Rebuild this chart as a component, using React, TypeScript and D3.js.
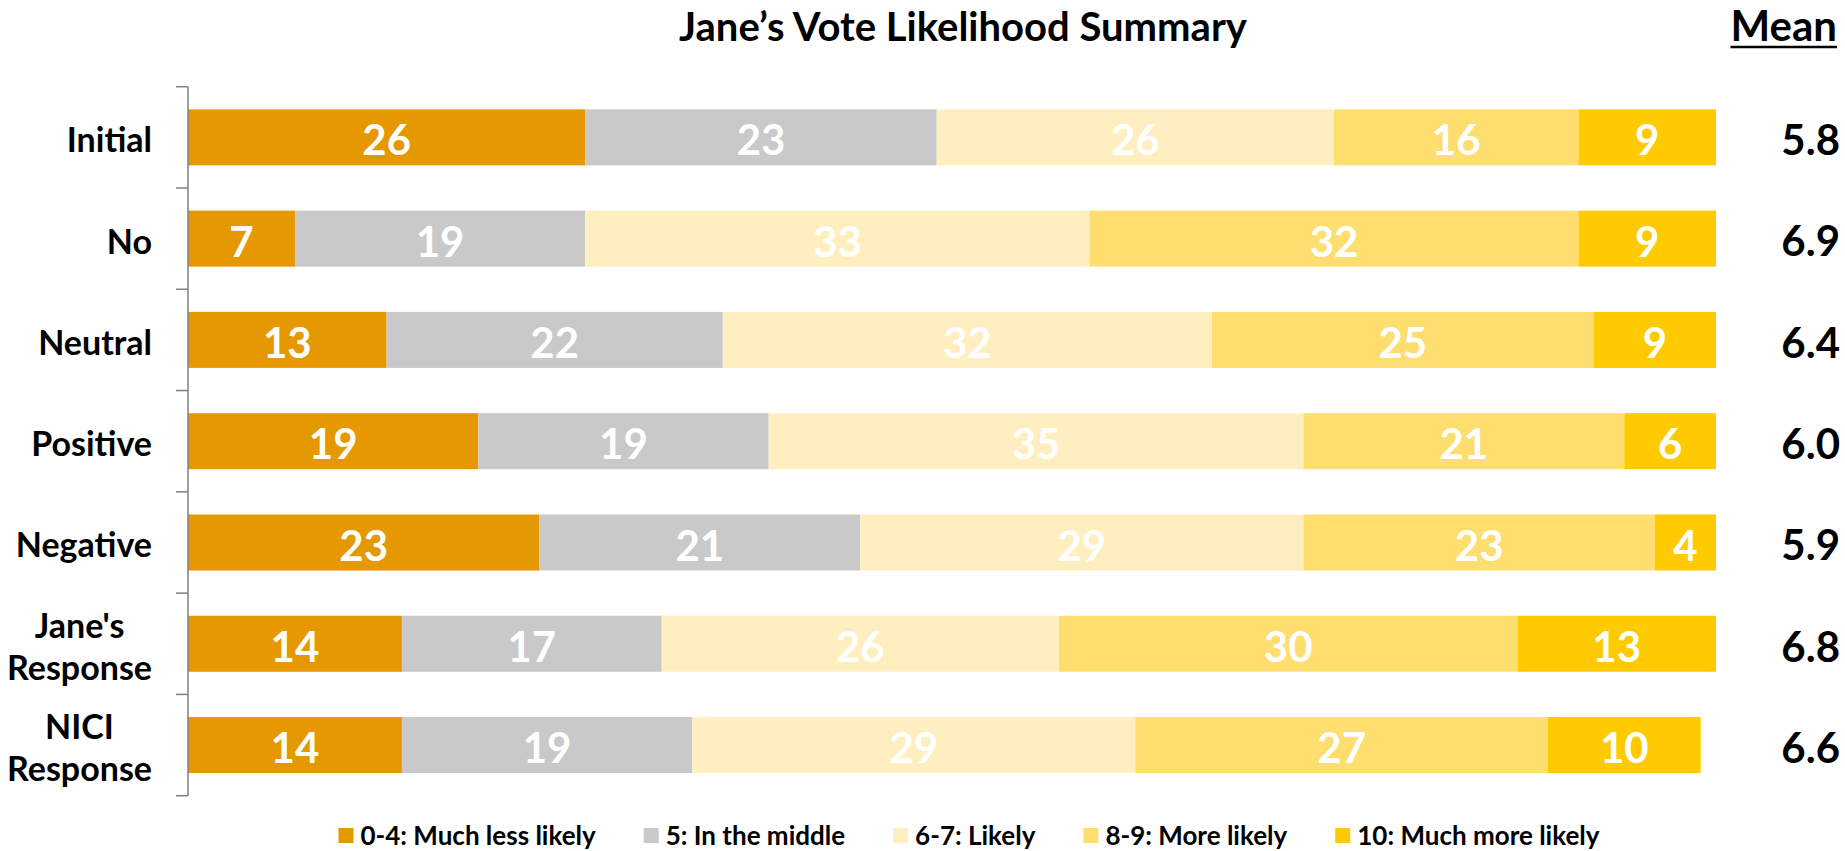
import React, { useEffect, useRef } from "react";
import * as d3 from "d3";

const categories = ["Initial", "No", "Neutral", "Positive", "Negative", "Jane's\nResponse", "NICI\nResponse"];
const seriesNames = ["0-4: Much less likely", "5: In the middle", "6-7: Likely", "8-9: More likely", "10: Much more likely"];
const seriesColors = ["#E69800", "#C9C9C9", "#FFEFC0", "#FDDE6E", "#FFCA00"];
const muchLessLikely = [26, 7, 13, 19, 23, 14, 14];
const inTheMiddle = [23, 19, 22, 19, 21, 17, 19];
const likely = [26, 33, 32, 35, 29, 26, 29];
const moreLikely = [16, 32, 25, 21, 23, 30, 27];
const muchMoreLikely = [9, 9, 8, 6, 4, 13, 10];
const muchMoreLikelyLabels = [9, 9, 9, 6, 4, 13, 10];
const means = ["5.8", "6.9", "6.4", "6.0", "5.9", "6.8", "6.6"];
const title = "Jane\u2019s Vote Likelihood Summary";
const meanHeader = "Mean";

const FONT = "Lato, 'Open Sans', sans-serif";

export default function App() {
  const ref = useRef<SVGSVGElement | null>(null);

  useEffect(() => {
    const svg = d3.select(ref.current);
    svg.selectAll("*").remove();

    const seriesValues = [muchLessLikely, inTheMiddle, likely, moreLikely, muchMoreLikely];
    const labelValues = [muchLessLikely, inTheMiddle, likely, moreLikely, muchMoreLikelyLabels];
    const rows = categories.map((c, i) => {
      const o: any = { cat: c, idx: i };
      seriesNames.forEach((s, k) => (o[s] = seriesValues[k][i]));
      return o;
    });
    const stacked = d3.stack<any>().keys(seriesNames)(rows);

    const x = d3.scaleLinear().domain([0, 100]).range([188, 1716]);
    const y = d3.scaleBand<string>().domain(categories).range([86.7, 795.7]).padding(0);
    const barH = y.bandwidth() * 0.553;
    const cy = (c: string) => (y(c) as number) + y.bandwidth() / 2;

    // Title
    svg.append("text")
      .attr("x", 963).attr("y", 41)
      .attr("text-anchor", "middle")
      .attr("font-family", FONT).attr("font-weight", 700).attr("font-size", 40)
      .attr("fill", "#000")
      .text(title);

    // Mean header
    const mh = svg.append("text")
      .attr("x", 1837).attr("y", 41)
      .attr("text-anchor", "end")
      .attr("font-family", FONT).attr("font-weight", 700).attr("font-size", 42)
      .attr("fill", "#000")
      .text(meanHeader);
    const mhw = (mh.node() as SVGTextElement).getComputedTextLength();
    svg.append("line")
      .attr("x1", 1837 - mhw).attr("x2", 1837)
      .attr("y1", 47).attr("y2", 47)
      .attr("stroke", "#000").attr("stroke-width", 2.5);

    // Bars
    const g = svg.append("g");
    stacked.forEach((layer, k) => {
      g.selectAll(null)
        .data(layer)
        .enter()
        .append("rect")
        .attr("x", (d: any) => x(d[0]))
        .attr("width", (d: any) => x(d[1]) - x(d[0]))
        .attr("y", (d: any) => cy(d.data.cat) - barH / 2)
        .attr("height", barH)
        .attr("fill", seriesColors[k]);
    });

    // Data labels
    stacked.forEach((layer, k) => {
      g.selectAll(null)
        .data(layer)
        .enter()
        .append("text")
        .attr("x", (d: any) => x((d[0] + d[1]) / 2))
        .attr("y", (d: any) => cy(d.data.cat) + 3)
        .attr("dy", "0.36em")
        .attr("text-anchor", "middle")
        .attr("font-family", FONT).attr("font-weight", 700).attr("font-size", 42)
        .attr("fill", "#fff")
        .text((d: any) => String(labelValues[k][d.data.idx]));
    });

    // Axis
    const axisG = svg.append("g");
    axisG.append("line")
      .attr("x1", 188).attr("x2", 188)
      .attr("y1", y.range()[0]).attr("y2", y.range()[1])
      .attr("stroke", "#7F7F7F").attr("stroke-width", 1.5);
    const bounds = categories.map((c) => y(c) as number).concat([y.range()[1]]);
    axisG.selectAll(null).data(bounds).enter().append("line")
      .attr("x1", 176).attr("x2", 188)
      .attr("y1", (d) => d).attr("y2", (d) => d)
      .attr("stroke", "#7F7F7F").attr("stroke-width", 1.5);

    // Category labels
    categories.forEach((c) => {
      const lines = c.split("\n");
      const t = axisG.append("text")
        .attr("font-family", FONT).attr("font-weight", 700).attr("font-size", 34)
        .attr("fill", "#000");
      if (lines.length === 1) {
        t.attr("x", 152).attr("y", cy(c) + 2.7).attr("dy", "0.36em")
          .attr("text-anchor", "end").text(c);
      } else {
        const spans = lines.map((ln, i) =>
          t.append("tspan").attr("text-anchor", "middle")
            .attr("y", cy(c) + 2.7 + (i - (lines.length - 1) / 2) * 41.6)
            .attr("dy", "0.36em").text(ln)
        );
        const widths = spans.map((s) => (s.node() as SVGTSpanElement).getComputedTextLength());
        const maxW = d3.max(widths) as number;
        spans.forEach((s) => s.attr("x", 152 - maxW / 2));
      }
    });

    // Means
    categories.forEach((c, i) => {
      svg.append("text")
        .attr("x", 1840).attr("y", cy(c) + 2.7).attr("dy", "0.36em")
        .attr("text-anchor", "end")
        .attr("font-family", FONT).attr("font-weight", 700).attr("font-size", 42)
        .attr("fill", "#000")
        .text(means[i]);
    });

    // Legend
    const lg = svg.append("g");
    const items: { w: number; g: any }[] = [];
    seriesNames.forEach((s, k) => {
      const ig = lg.append("g");
      ig.append("rect").attr("x", 0).attr("y", 828).attr("width", 15).attr("height", 15).attr("fill", seriesColors[k]);
      const tt = ig.append("text").attr("x", 22).attr("y", 845)
        .attr("font-family", FONT).attr("font-weight", 700).attr("font-size", 26)
        .attr("fill", "#000").text(s);
      const w = 22 + (tt.node() as SVGTextElement).getComputedTextLength();
      items.push({ w, g: ig });
    });
    const gap = 48;
    const total = d3.sum(items, (d) => d.w) + gap * (items.length - 1);
    let cx = 969 - total / 2;
    items.forEach((it) => {
      it.g.attr("transform", `translate(${cx},0)`);
      cx += it.w + gap;
    });
  }, []);

  return (
    <svg
      ref={ref}
      width={1845}
      height={851}
      style={{ position: "absolute", left: 0, top: 0, display: "block", background: "#fff" }}
    />
  );
}
